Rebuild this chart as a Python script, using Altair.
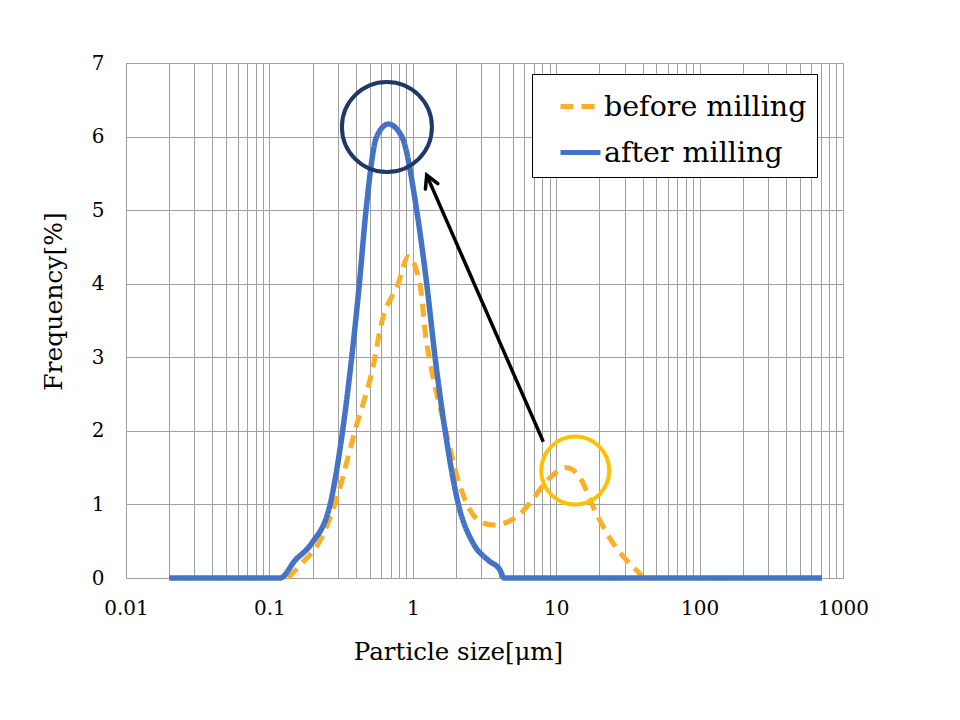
import altair as alt
import pandas as pd

# ---- data ----
after_x = [0.02, 0.05, 0.1, 0.119, 0.151, 0.197, 0.265, 0.324, 0.375, 0.424, 0.472,
           0.56, 0.675, 0.838, 1.064, 1.25, 1.43, 1.68, 2.08, 2.64, 3.36,
           4.05, 4.33, 10, 100, 713]
after_y = [0, 0, 0, 0, 0.24, 0.47, 1.0, 2.0, 3.0, 4.0, 5.0,
           6.0, 6.17, 6.0, 5.0, 4.0, 3.0, 2.0, 1.0, 0.47, 0.24,
           0.11, 0, 0, 0, 0]

before_x = [0.135, 0.168, 0.22, 0.286, 0.395, 0.545, 0.59, 0.79, 0.93, 1.12, 1.24,
            1.30, 1.70, 2.07, 2.51, 3.0, 3.64, 5.3, 6.56, 8.13, 10.07, 11.8, 14.7,
            18.1, 22.5, 29.4, 34.0, 39.5]
before_y = [0, 0.2, 0.47, 1.0, 2.0, 3.0, 3.37, 4.0, 4.37, 4.0, 3.23,
            3.0, 2.0, 1.33, 0.92, 0.76, 0.72, 0.83, 1.02, 1.26, 1.44, 1.5, 1.36,
            0.97, 0.61, 0.29, 0.16, 0.03]

series_names = ["before milling", "after milling"]
series_colors = ["#FBAE28", "#4472C4"]
series_dash = [[13, 8], [1, 0]]

y_ticks = [0, 1, 2, 3, 4, 5, 6, 7]
x_grid = [m * 10.0 ** k for k in range(-2, 3) for m in range(1, 10)] + [1000.0]

# annotations (data coordinates)
circle_x = [0.66, 13.57]
circle_y = [6.13, 1.46]
circle_color = ["#203864", "#FFC000"]
circle_size = [8100, 4624]
arrow_start = (8.13, 1.852)
arrow_tip = (1.25, 5.476)

FONT = "DejaVu Serif, serif"
GRID = "#A0A0A0"

df_after = pd.DataFrame({"x": after_x, "y": after_y, "series": series_names[1]})
df_before = pd.DataFrame({"x": before_x, "y": before_y, "series": series_names[0]})

xscale = alt.Scale(type="log", domain=[0.01, 1000], nice=False)
yscale = alt.Scale(domain=[0, 7], nice=False, zero=True)

xaxis = alt.Axis(
    values=x_grid,
    labelExpr="abs(log(datum.value)/LN10 - round(log(datum.value)/LN10)) < 1e-6 ? format(datum.value, '~g') : ''",
    grid=True, gridColor=GRID, gridWidth=1, ticks=False,
    domainColor=GRID, labelFont=FONT, labelFontSize=20, labelColor="black",
    labelPadding=20, labelFlush=False, labelOverlap=False,
    title="Particle size[μm]", titleFont=FONT, titleFontSize=24.5,
    titleFontWeight="normal", titleColor="black",
    titleX=332, titleY=62, titleAlign="center",
)
yaxis = alt.Axis(
    values=y_ticks, format="d", grid=True, gridColor=GRID, gridWidth=1, ticks=False,
    domainColor=GRID, labelFont=FONT, labelFontSize=20, labelColor="black",
    labelPadding=22, title="Frequency[%]", titleFont=FONT, titleFontSize=25,
    titleFontWeight="normal", titleColor="black", titleAngle=-90,
    titleX=-73, titleY=238, titleAlign="center", titleBaseline="middle",
)

legend = alt.Legend(
    title=None, orient="none", legendX=406, legendY=11,
    fillColor="white", strokeColor="black", padding=10,
    symbolType="stroke", symbolSize=1600, symbolStrokeWidth=5, symbolOffset=16,
    labelFont=FONT, labelFontSize=28.5, labelColor="black", labelOffset=1,
    rowPadding=9, labelLimit=400,
)
color = alt.Color("series:N", scale=alt.Scale(domain=series_names, range=series_colors), legend=legend)
dash = alt.StrokeDash("series:N", scale=alt.Scale(domain=series_names, range=series_dash), legend=legend)

before_line = alt.Chart(df_before).mark_line(strokeWidth=5, interpolate="monotone", strokeCap="butt").encode(
    x=alt.X("x:Q", scale=xscale, axis=xaxis),
    y=alt.Y("y:Q", scale=yscale, axis=yaxis),
    color=color, strokeDash=dash,
)
after_line = alt.Chart(df_after).mark_line(strokeWidth=5.5, interpolate="monotone").encode(
    x=alt.X("x:Q", scale=xscale),
    y=alt.Y("y:Q", scale=yscale),
    color=color, strokeDash=dash,
)

df_circ = pd.DataFrame({"x": circle_x, "y": circle_y, "c": circle_color, "s": circle_size})
circles = alt.Chart(df_circ).mark_point(shape="circle", filled=False, strokeWidth=4, opacity=1).encode(
    x=alt.X("x:Q", scale=xscale),
    y=alt.Y("y:Q", scale=yscale),
    stroke=alt.Stroke("c:N", scale=None),
    size=alt.Size("s:Q", scale=None),
)

df_arrow = pd.DataFrame({"x": [arrow_start[0]], "y": [arrow_start[1]],
                         "x2": [arrow_tip[0]], "y2": [arrow_tip[1]]})
arrow_line = alt.Chart(df_arrow).mark_rule(color="black", strokeWidth=3.5).encode(
    x=alt.X("x:Q", scale=xscale), y=alt.Y("y:Q", scale=yscale), x2="x2:Q", y2="y2:Q",
)
arrow_head = alt.Chart(df_arrow).mark_point(
    shape="M -0.55 1 L 0 0 L 0.55 1", filled=False, strokeWidth=3.5, color="black",
    size=605, angle=336.4, opacity=1, strokeCap="round", strokeJoin="miter",
).encode(
    x=alt.X("x2:Q", scale=xscale), y=alt.Y("y2:Q", scale=yscale),
)

chart = alt.layer(before_line, after_line, circles, arrow_line, arrow_head).resolve_scale(
    color="shared", strokeDash="shared"
).properties(
    width=717, height=515,
    autosize=alt.AutoSizeParams(type="none"),
    padding={"left": 118, "top": 55, "right": 100, "bottom": 120},
    background="white",
).configure_view(stroke=None)

chart.save("out.html", embed_options={"renderer": "svg", "actions": False})
